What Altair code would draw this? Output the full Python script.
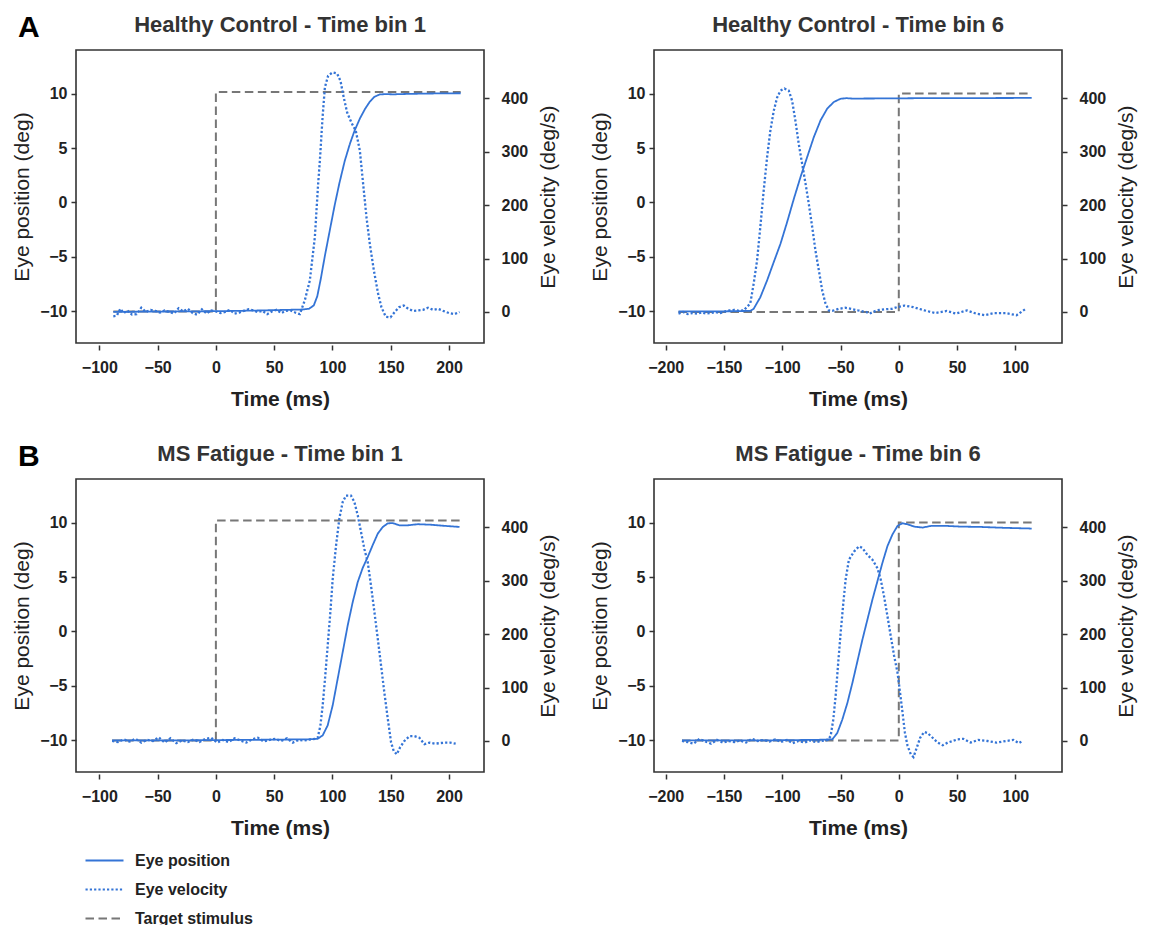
import altair as alt
import pandas as pd

FONT = "Liberation Sans"
BLUE = "#3474d6"
GRAY = "#777777"
INK = "#222222"

SERIES = ["Eye position", "Eye velocity", "Target stimulus"]
DASHES = [[1, 0], [2.2, 2.1], [8.5, 4.5]]

TITLES = ["Healthy Control - Time bin 1", "Healthy Control - Time bin 6",
          "MS Fatigue - Time bin 1", "MS Fatigue - Time bin 6"]
X_TICKS_BIN1 = [-100, -50, 0, 50, 100, 150, 200]
X_TICKS_BIN6 = [-200, -150, -100, -50, 0, 50, 100]
X_DOMAIN_BIN1 = [-120, 230]
X_DOMAIN_BIN6 = [-210, 140]
POS_TICKS = [-10, -5, 0, 5, 10]
VEL_TICKS = [0, 100, 200, 300, 400]
POS_DOMAIN = [-12.9, 14.0]
VEL_DOMAIN = [-58, 490]

# ---------------- Healthy Control, time bin 1 ----------------
HC1_POS = [(-88, -10.05), (-60, -10.02), (-30, -10.0), (0, -9.98), (30, -9.93), (60, -9.86),
           (75, -9.82), (80, -9.75), (84, -9.45), (87, -8.6), (90, -7.0), (93.5, -4.9),
           (98, -2.4), (102, -0.2), (106, 1.8), (110.5, 3.8), (115, 5.4), (119, 6.6),
           (123.5, 7.7), (128, 8.6), (132, 9.25), (136, 9.7), (140.5, 9.92), (146, 9.95),
           (152, 9.93), (165, 9.97), (180, 10.0), (195, 10.02), (210, 10.03)]
HC1_VEL = [(-88, -8), (-85, -7), (-82, 6), (-79, -2), (-76, 3), (-72, -5), (-68, -4), (-64, 8),
           (-60, 0), (-56, 4), (-52, 2), (-48, -1), (-44, 3), (-40, 0), (-36, -3), (-32, 7),
           (-28, 1), (-24, 6), (-20, -2), (-16, -5), (-12, 5), (-8, -3), (-4, 3), (0, 1),
           (4, -2), (8, 0), (12, 4), (16, -3), (20, -1), (24, 2), (28, 5), (32, 3), (36, 0),
           (40, 2), (44, -4), (48, 1), (52, 4), (56, -2), (60, 2), (64, 3), (68, -1), (72, -4),
           (76.3, 22), (80.6, 59), (84.9, 140), (87.7, 239), (89.2, 283), (91.5, 364),
           (93.5, 420), (96.3, 442), (100, 448), (104, 446), (106.9, 432), (109.7, 401),
           (112.6, 373), (116.3, 354), (120, 339), (123.5, 302), (126.3, 240), (129.2, 177),
           (132, 128), (135.5, 78), (139.2, 34), (142, 9), (145.7, -9), (149.8, -10),
           (153.4, 0), (157.1, 9), (161.2, 12), (165, 6), (169, 2), (173, 3), (177.7, 4),
           (182, 8), (186.3, 4), (190.6, 6), (195, 2), (200, -2), (204.5, -4), (209, 0)]
HC1_TGT = [(-88, -10.0), (0, -10.0), (0, 10.15), (210, 10.15)]

# ---------------- Healthy Control, time bin 6 ----------------
HC6_POS = [(-189, -10.0), (-160, -10.0), (-140, -9.98), (-127.4, -9.95), (-124.5, -9.76),
           (-118.8, -8.7), (-113, -7.16), (-107.3, -5.48), (-101.5, -3.79), (-95.8, -1.8),
           (-90, 0.35), (-84.3, 2.34), (-78.6, 4.17), (-72.9, 6.0), (-67.1, 7.55),
           (-61.4, 8.62), (-55.7, 9.23), (-50, 9.52), (-45, 9.58), (-40, 9.54), (-20, 9.55),
           (0, 9.56), (20, 9.58), (50, 9.58), (80, 9.59), (114, 9.6)]
HC6_VEL = [(-189, -3), (-185, 0), (-181, -4), (-177, -2), (-173, -3), (-169, -1), (-165, -3),
           (-161, -2), (-157, 0), (-153, -2), (-149, 1), (-145, 3), (-141, 4), (-137, 2),
           (-133, 3), (-127.4, 16), (-124.5, 53), (-121.6, 96), (-118.8, 159), (-115.9, 227),
           (-113, 289), (-110.2, 339), (-107.3, 376), (-104.4, 401), (-101.5, 414),
           (-98.1, 418), (-94.4, 414), (-91.5, 395), (-88.7, 358), (-85.8, 314), (-82.9, 277),
           (-80, 240), (-77.2, 202), (-74.3, 159), (-71.5, 115), (-68.6, 78), (-65.7, 40),
           (-62.9, 16), (-60, 3), (-57.1, 2), (-51.4, 6), (-46, 8), (-41, 6), (-35, 3),
           (-28, 0), (-25, -3), (-19, 3), (-12, 5), (-6, 6), (-1.6, 9), (4.8, 12), (12.6, 9),
           (22, 3), (31.5, -2), (41, 2), (49, -3), (58.4, 3), (66.3, -3), (74, -6), (82, -2),
           (91.5, -2), (101, -6), (109, 6)]
HC6_TGT = [(-189, -10.05), (0, -10.05), (0, 10.0), (114, 10.0)]

# ---------------- MS Fatigue, time bin 1 ----------------
MS1_POS = [(-89, -10.0), (-60, -10.0), (-30, -10.0), (0, -9.97), (30, -9.95), (60, -9.92),
           (80, -9.9), (87.3, -9.85), (91.6, -9.54), (95.9, -8.62), (100.2, -6.78),
           (104.5, -4.33), (108.8, -1.88), (113.1, 0.57), (117.4, 2.71), (121.7, 4.55),
           (126, 5.85), (130.3, 6.85), (134.6, 7.95), (138.9, 8.99), (143.2, 9.6),
           (147.5, 9.93), (151.8, 9.95), (157.4, 9.75), (164.5, 9.75), (173.2, 9.85),
           (184.6, 9.8), (196, 9.7), (209, 9.6)]
MS1_VEL = [(-89, 0), (-84, -2), (-79, 3), (-74, -1), (-69, 4), (-64, -3), (-59, 2), (-54, 0),
           (-49, 7), (-44, -3), (-39, 5), (-34, -4), (-29, 1), (-24, -2), (-19, 3), (-14, -2),
           (-9, 4), (-4, 6), (1, -3), (6, 2), (11, -2), (16, 5), (21, 1), (26, -3), (31, 3),
           (36, 6), (41, -1), (46, 2), (51, 4), (56, 0), (61, 5), (66, -3), (71, 2), (76, 1),
           (81, 3), (85, 4), (87.3, 6), (89.6, 28), (91.6, 66), (93.6, 116), (95.9, 178),
           (98.2, 241), (100.2, 303), (103.1, 366), (105.9, 416), (108.8, 447), (111.6, 459),
           (115.9, 459), (118.8, 447), (121.7, 422), (124.5, 391), (127.4, 359), (130.3, 334),
           (133.1, 290), (136, 241), (138.9, 191), (141.7, 141), (144.5, 91), (147.5, 41),
           (150.3, -3), (152.6, -19), (155.2, -25), (158, -12), (161.7, 0), (166, 9),
           (170.3, 9), (174.6, 6), (178.9, -6), (183.2, -3), (188, -5), (192, -4),
           (196.3, -3), (201, -3), (205.7, -5)]
MS1_TGT = [(-89, -10.0), (0, -10.0), (0, 10.2), (211, 10.2)]

# ---------------- MS Fatigue, time bin 6 ----------------
MS6_POS = [(-186, -10.0), (-150, -10.0), (-120, -10.0), (-90, -9.97), (-70, -9.95),
           (-57, -9.9), (-52.8, -9.32), (-48.5, -8.1), (-44.1, -6.56), (-39.8, -4.72),
           (-35.5, -2.73), (-31.2, -0.74), (-26.9, 1.1), (-22.6, 2.94), (-18.3, 4.63),
           (-14, 6.32), (-9.7, 7.85), (-5.4, 8.92), (-1.1, 9.69), (3.2, 9.94), (7.5, 9.84),
           (13.2, 9.63), (20.4, 9.54), (27.5, 9.69), (41.9, 9.69), (53.3, 9.63), (70, 9.6),
           (90, 9.52), (114, 9.45)]
MS6_VEL = [(-186, 0), (-181, -2), (-176, -5), (-171, 4), (-166, -1), (-161, -5), (-156, 2),
           (-151, -3), (-146, 0), (-141, -2), (-136, 1), (-131, -3), (-126, 4), (-121, 0),
           (-116, 2), (-111, -1), (-106, 3), (-101, -2), (-96, 2), (-91, -4), (-86, 0),
           (-81, -3), (-76, 1), (-71, -2), (-66, 0), (-61, 2), (-58.5, 9), (-56.2, 40),
           (-54.2, 84), (-52.2, 140), (-49.9, 202), (-47.6, 258), (-45.6, 302), (-42.8, 339),
           (-38.5, 354), (-34.2, 364), (-31.2, 361), (-26.9, 348), (-22.6, 339), (-18.3, 323),
           (-15.5, 302), (-12.6, 270), (-9.7, 233), (-6.9, 196), (-4, 159), (-1.1, 128),
           (1.1, 90), (3.2, 53), (5.2, 16), (7.5, -9), (10.3, -25), (12.6, -30), (15.5, -12),
           (18.3, 6), (21.8, 17), (24.6, 15), (29, 6), (33.3, -3), (37.6, -8), (41.9, -3),
           (46.2, 0), (50.5, 3), (55.4, 4), (61.7, -3), (68, 2), (76, 0), (84, -3), (92, 0),
           (98.4, 2), (103, -4), (106, 0)]
MS6_TGT = [(-186, -10.0), (0, -10.0), (0, 10.0), (114, 10.0)]

PW, PH = 408, 293


def frame(pairs, series):
    df = pd.DataFrame(pairs, columns=["t", "val"])
    df["series"] = series
    df["ord"] = list(range(len(df)))
    return df


LEGEND = alt.Legend(title=None, orient="none", legendX=8, legendY=790, direction="vertical",
                    symbolType="stroke", symbolSize=1444, symbolStrokeWidth=2.2,
                    labelFont=FONT, labelFontSize=16, labelFontWeight="bold",
                    labelColor=INK, labelOffset=10, rowPadding=-13, padding=0)


def panel(title, pos, vel, tgt, xdom, xticks, letter):
    x = alt.X("t:Q", scale=alt.Scale(domain=xdom, nice=False, zero=False),
              axis=alt.Axis(values=xticks, title="Time (ms)", titleFontWeight="bold",
                            labelPadding=9, titlePadding=13, offset=2))
    color = alt.Color("series:N", scale=alt.Scale(domain=SERIES, range=[BLUE, BLUE, GRAY]),
                      legend=LEGEND)
    dash = alt.StrokeDash("series:N", scale=alt.Scale(domain=SERIES, range=DASHES),
                          legend=LEGEND)
    order = alt.Order("ord:Q")
    pscale = alt.Scale(domain=POS_DOMAIN, nice=False, zero=False)
    tgt_layer = alt.Chart(frame(tgt, "Target stimulus")).mark_line(
        strokeWidth=2, strokeCap="butt").encode(
        x=x, y=alt.Y("val:Q", scale=pscale, axis=None),
        color=color, strokeDash=dash, order=order)
    pos_layer = alt.Chart(frame(pos, "Eye position")).mark_line(
        strokeWidth=1.8).encode(
        x=x, y=alt.Y("val:Q", scale=pscale,
                     axis=alt.Axis(values=POS_TICKS, title="Eye position (deg)", orient="left",
                                   labelPadding=4, titlePadding=7)),
        color=color, strokeDash=dash, order=order)
    vel_layer = alt.Chart(frame(vel, "Eye velocity")).mark_line(
        strokeWidth=2.3, strokeCap="butt").encode(
        x=x, y=alt.Y("val:Q", scale=alt.Scale(domain=VEL_DOMAIN, nice=False, zero=False),
                     axis=alt.Axis(values=VEL_TICKS, title="Eye velocity (deg/s)",
                                   orient="right", titleAngle=270, titleBaseline="top",
                                   labelPadding=12, titlePadding=10)),
        color=color, strokeDash=dash, order=order)
    notes = pd.DataFrame({"label": [title]})
    title_layer = alt.Chart(notes).mark_text(
        font=FONT, fontSize=22, fontWeight="bold", align="center", baseline="alphabetic",
        color="#333333").encode(text="label:N", x=alt.value(PW / 2), y=alt.value(-18))
    layers = [tgt_layer, pos_layer, vel_layer, title_layer]
    if letter:
        layers.append(alt.Chart(pd.DataFrame({"label": [letter]})).mark_text(
            font=FONT, fontSize=30, fontWeight="bold", align="left", baseline="alphabetic",
            color="#000000").encode(text="label:N", x=alt.value(-58), y=alt.value(-13)))
    return alt.layer(*layers).resolve_scale(y="independent").properties(width=PW, height=PH)


p1 = panel(TITLES[0], HC1_POS, HC1_VEL, HC1_TGT, X_DOMAIN_BIN1, X_TICKS_BIN1, "A")
p2 = panel(TITLES[1], HC6_POS, HC6_VEL, HC6_TGT, X_DOMAIN_BIN6, X_TICKS_BIN6, None)
p3 = panel(TITLES[2], MS1_POS, MS1_VEL, MS1_TGT, X_DOMAIN_BIN1, X_TICKS_BIN1, "B")
p4 = panel(TITLES[3], MS6_POS, MS6_VEL, MS6_TGT, X_DOMAIN_BIN6, X_TICKS_BIN6, None)

chart = alt.vconcat(
    alt.hconcat(p1, p2, spacing=29),
    alt.hconcat(p3, p4, spacing=29),
    spacing=31,
).properties(
    padding={"left": 3, "top": 4, "right": 0, "bottom": 0},
    background="white",
).configure_view(
    stroke="#333333", strokeWidth=1.6
).configure_axis(
    labelFont=FONT, labelFontSize=16, labelFontWeight="bold", labelColor=INK,
    titleFont=FONT, titleFontSize=21, titleFontWeight="normal", titleColor=INK,
    tickColor="#333333", tickWidth=1.5, tickSize=5, domain=False, grid=False,
)

chart.save("out.html", embed_options={"renderer": "svg", "actions": False})
